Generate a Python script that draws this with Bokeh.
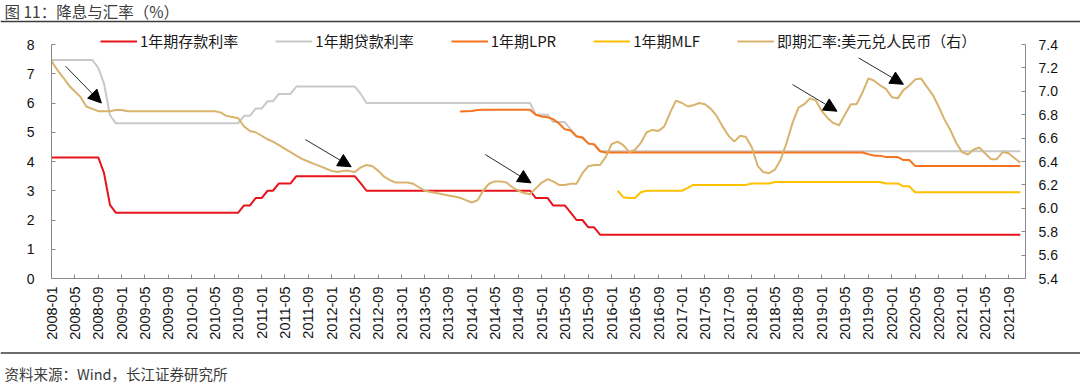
import numpy as np
import pandas as pd
from bokeh.plotting import figure
from bokeh.layouts import column
from bokeh.models import (Range1d, LinearAxis, FixedTicker, MonthsTicker, DatetimeTickFormatter,
                          PrintfTickFormatter, Legend, LegendItem, Label, Arrow, NormalHead, Span)
from bokeh.embed import file_html
from bokeh.resources import INLINE

# ---------------- data ----------------
TITLE = "图 11：降息与汇率（%）"
SOURCE = "资料来源：Wind，长江证券研究所"
series_names = ["1年期存款利率", "1年期贷款利率", "1年期LPR", "1年期MLF", "即期汇率:美元兑人民币（右）"]

deposit_dates = ["2008-01", "2008-09", "2008-10", "2008-11", "2008-12", "2010-09", "2010-10", "2010-11",
                 "2010-12", "2011-01", "2011-02", "2011-03", "2011-04", "2011-06", "2011-07", "2012-05",
                 "2012-06", "2012-07", "2014-11", "2014-12", "2015-02", "2015-03", "2015-05", "2015-06",
                 "2015-07", "2015-08", "2015-09", "2015-10", "2015-11", "2021-11"]
deposit_rate = [4.14, 4.14, 3.60, 2.52, 2.25, 2.25, 2.50, 2.50,
                2.75, 2.75, 3.00, 3.00, 3.25, 3.25, 3.50, 3.50,
                3.25, 3.00, 3.00, 2.75, 2.75, 2.50, 2.50, 2.25,
                2.00, 2.00, 1.75, 1.75, 1.50, 1.50]

lending_dates = ["2008-01", "2008-08", "2008-09", "2008-10", "2008-11", "2008-12", "2010-09", "2010-10",
                 "2010-11", "2010-12", "2011-01", "2011-02", "2011-03", "2011-04", "2011-06", "2011-07",
                 "2012-05", "2012-06", "2012-07", "2014-11", "2014-12", "2015-02", "2015-03", "2015-05",
                 "2015-06", "2015-07", "2015-08", "2015-09", "2015-10", "2015-11", "2021-11"]
lending_rate = [7.47, 7.47, 7.20, 6.66, 5.58, 5.31, 5.31, 5.56,
                5.56, 5.81, 5.81, 6.06, 6.06, 6.31, 6.31, 6.56,
                6.56, 6.31, 6.00, 6.00, 5.60, 5.60, 5.35, 5.35,
                5.10, 4.85, 4.85, 4.60, 4.60, 4.35, 4.35]

lpr_dates = ["2013-11", "2013-12", "2014-01", "2014-02", "2014-03", "2014-11", "2014-12", "2015-01",
             "2015-02", "2015-03", "2015-04", "2015-05", "2015-06", "2015-07", "2015-08", "2015-09",
             "2015-10", "2015-11", "2015-12", "2019-08", "2019-09", "2019-10", "2019-11", "2019-12",
             "2020-02", "2020-03", "2020-04", "2020-05", "2021-11"]
lpr_rate = [5.71, 5.72, 5.73, 5.76, 5.77, 5.77, 5.60, 5.54,
            5.51, 5.45, 5.30, 5.10, 5.06, 4.86, 4.81, 4.62,
            4.58, 4.35, 4.31, 4.31, 4.25, 4.20, 4.20, 4.15,
            4.15, 4.05, 4.05, 3.85, 3.85]

mlf_dates = ["2016-02", "2016-03", "2016-04", "2016-05", "2016-06", "2016-07", "2017-01", "2017-02",
             "2017-03", "2017-12", "2018-01", "2018-04", "2018-05", "2019-11", "2019-12", "2020-02",
             "2020-03", "2020-04", "2020-05", "2021-11"]
mlf_rate = [3.00, 2.78, 2.75, 2.75, 2.95, 3.00, 3.00, 3.10,
            3.20, 3.20, 3.25, 3.25, 3.30, 3.30, 3.25, 3.25,
            3.15, 3.15, 2.95, 2.95]

fx_first_month = "2008-01"
fx_usdcny = [
    7.26, 7.18, 7.12, 7.05, 7.00, 6.95, 6.87, 6.85, 6.83, 6.83, 6.83, 6.84,   # 2008
    6.84, 6.83, 6.83, 6.83, 6.83, 6.83, 6.83, 6.83, 6.83, 6.83, 6.83, 6.83,   # 2009
    6.83, 6.83, 6.83, 6.83, 6.83, 6.82, 6.79, 6.78, 6.77, 6.70, 6.66, 6.65,   # 2010
    6.62, 6.59, 6.57, 6.54, 6.51, 6.48, 6.45, 6.42, 6.40, 6.38, 6.36, 6.34,   # 2011
    6.32, 6.31, 6.32, 6.32, 6.31, 6.35, 6.37, 6.36, 6.32, 6.27, 6.24, 6.22,   # 2012
    6.22, 6.22, 6.21, 6.18, 6.15, 6.14, 6.13, 6.12, 6.11, 6.10, 6.09, 6.07,   # 2013
    6.05, 6.07, 6.15, 6.21, 6.23, 6.23, 6.22, 6.18, 6.15, 6.13, 6.12, 6.17,   # 2014
    6.22, 6.25, 6.23, 6.20, 6.20, 6.21, 6.21, 6.30, 6.36, 6.37, 6.37, 6.44,   # 2015
    6.55, 6.57, 6.54, 6.48, 6.50, 6.56, 6.65, 6.67, 6.66, 6.70, 6.82, 6.92,   # 2016
    6.90, 6.87, 6.88, 6.90, 6.89, 6.85, 6.79, 6.70, 6.62, 6.57, 6.62, 6.61,   # 2017
    6.52, 6.36, 6.31, 6.30, 6.33, 6.42, 6.56, 6.73, 6.86, 6.89, 6.94, 6.92,   # 2018
    6.83, 6.77, 6.73, 6.71, 6.80, 6.89, 6.89, 6.99, 7.11, 7.09, 7.05, 7.02,   # 2019
    6.95, 6.94, 7.01, 7.05, 7.10, 7.11, 7.04, 6.97, 6.87, 6.76, 6.67, 6.56,   # 2020
    6.48, 6.46, 6.50, 6.52, 6.47, 6.42, 6.42, 6.48, 6.47, 6.43, 6.39,         # 2021
]

x_start_date = "2008-01-01"
x_end_date = "2021-11-28"
left_ticks = [0, 1, 2, 3, 4, 5, 6, 7, 8]
right_ticks = [5.4, 5.6, 5.8, 6.0, 6.2, 6.4, 6.6, 6.8, 7.0, 7.2, 7.4]

# annotation arrows (left-axis units)
arrow_start_dates = ["2008-03-14", "2011-08-17", "2014-03-12", "2018-08-01", "2019-07-12"]
arrow_start_vals = [7.26, 4.75, 4.24, 6.63, 7.54]
arrow_end_dates = ["2008-09-17", "2012-04-12", "2014-11-06", "2019-03-21", "2020-03-01"]
arrow_end_vals = [6.00, 3.82, 3.27, 5.72, 6.64]

# ---------------- styles / layout ----------------
C_DEP, C_LEND, C_LPR, C_MLF, C_FX = "#E8141C", "#C9C9C9", "#F7731C", "#FFC000", "#D9B36E"
NUM_FONT = "Liberation Sans"
CJK_FONT = "Noto Sans CJK SC"
AXIS_COLOR = "#8a8a8a"
TEXT_DARK = "#3c3c3c"
W = 1080
H_HEAD, H_MAIN, H_FOOT = 28, 320, 37
FRAME_TOP, FRAME_BOTTOM = 0, 250           # inside main figure
PX_LEFT = 29.25                             # px per left unit
PX_RIGHT = 117.0                            # px per right unit
frame_h = FRAME_BOTTOM - FRAME_TOP


def to_dt(dates):
    return pd.to_datetime(dates)


def to_ms(d):
    return pd.Timestamp(d).value / 1e6


def blank_fig(h):
    f = figure(width=W, height=h, x_range=Range1d(0, W), y_range=Range1d(h, 0),
               output_backend="svg", toolbar_location=None, title=None, frame_align=False,
               min_border_left=0, min_border_right=0, min_border_top=0, min_border_bottom=0)
    f.axis.visible = False
    f.grid.visible = False
    f.outline_line_color = None
    f.background_fill_color = "white"
    f.border_fill_color = "white"
    return f


# header: title + rule
head = blank_fig(H_HEAD)
head.add_layout(Label(x=4, y=10.5, text=TITLE, text_font=CJK_FONT, text_font_size="15.5px",
                      text_color=TEXT_DARK, text_baseline="middle"))
head.add_layout(Span(location=21, dimension="width", line_color=TEXT_DARK, line_width=1.5))

# main chart
p = figure(width=W, height=H_MAIN, x_axis_type="datetime", title=None, frame_align=False,
           x_range=Range1d(pd.Timestamp(x_start_date), pd.Timestamp(x_end_date)),
           y_range=Range1d(0, frame_h / PX_LEFT), output_backend="svg", toolbar_location=None,
           min_border_left=51, min_border_right=55, min_border_top=FRAME_TOP,
           min_border_bottom=H_MAIN - FRAME_BOTTOM)
p.outline_line_color = None
p.background_fill_color = "white"
p.border_fill_color = "white"
p.xgrid.visible = False
p.ygrid.visible = False
p.extra_y_ranges = {"fx": Range1d(right_ticks[0], right_ticks[0] + frame_h / PX_RIGHT)}


def style_axis(ax, standoff, size="14px"):
    ax.axis_line_color = AXIS_COLOR
    ax.axis_line_width = 1
    ax.major_tick_line_color = AXIS_COLOR
    ax.major_tick_in = 4
    ax.major_tick_out = 0
    ax.minor_tick_line_color = None
    ax.major_label_text_font = NUM_FONT
    ax.major_label_text_font_size = size
    ax.major_label_text_color = "#111111"
    ax.major_label_standoff = standoff


xa = p.xaxis[0]
xa.ticker = MonthsTicker(months=[0, 4, 8])
xa.formatter = DatetimeTickFormatter(days="%Y-%m", months="%Y-%m", years="%Y-%m")
xa.major_label_orientation = np.pi / 2
style_axis(xa, 8, "14.5px")

ya = p.yaxis[0]
ya.ticker = FixedTicker(ticks=left_ticks)
ya.bounds = (left_ticks[0], left_ticks[-1])
style_axis(ya, 17)

ra = LinearAxis(y_range_name="fx", ticker=FixedTicker(ticks=right_ticks),
                formatter=PrintfTickFormatter(format="%.1f"),
                bounds=(right_ticks[0], right_ticks[-1]))
style_axis(ra, 13)
p.add_layout(ra, "right")

r_lend = p.line(to_dt(lending_dates), lending_rate, line_color=C_LEND, line_width=2)
r_dep = p.line(to_dt(deposit_dates), deposit_rate, line_color=C_DEP, line_width=2)
r_lpr = p.line(to_dt(lpr_dates), lpr_rate, line_color=C_LPR, line_width=2)
r_mlf = p.line(to_dt(mlf_dates), mlf_rate, line_color=C_MLF, line_width=2)
fx_months = pd.date_range(fx_first_month + "-01", periods=len(fx_usdcny), freq="MS")
r_fx = p.line(fx_months, fx_usdcny, line_color=C_FX, line_width=2, y_range_name="fx")

for xs, ys, xe, ye in zip(arrow_start_dates, arrow_start_vals, arrow_end_dates, arrow_end_vals):
    p.add_layout(Arrow(end=NormalHead(size=13, fill_color="black", line_color="black", line_width=1),
                       x_start=to_ms(xs), y_start=ys, x_end=to_ms(xe), y_end=ye,
                       line_color="#2a2a2a", line_width=1))

# legend: centred at page y ~41.7 (frame bottom at page 278)
legend = Legend(items=[LegendItem(label=series_names[0], renderers=[r_dep]),
                       LegendItem(label=series_names[1], renderers=[r_lend]),
                       LegendItem(label=series_names[2], renderers=[r_lpr]),
                       LegendItem(label=series_names[3], renderers=[r_mlf]),
                       LegendItem(label=series_names[4], renderers=[r_fx])],
                orientation="horizontal", location=(49, 227), padding=0, margin=0, spacing=37,
                glyph_width=37, glyph_height=18, label_height=18, label_standoff=3,
                label_text_font=CJK_FONT, label_text_font_size="15px", label_text_color="#1a1a1a",
                border_line_color=None, background_fill_alpha=0)
p.add_layout(legend)

# footer: rule + source
foot = blank_fig(H_FOOT)
foot.add_layout(Span(location=4.5, dimension="width", line_color=TEXT_DARK, line_width=1.5))
foot.add_layout(Label(x=4, y=25, text=SOURCE, text_font=CJK_FONT, text_font_size="14.5px",
                      text_color=TEXT_DARK, text_baseline="middle"))

layout = column(head, p, foot, spacing=0)
open("out.html", "w").write(file_html(layout, INLINE))
